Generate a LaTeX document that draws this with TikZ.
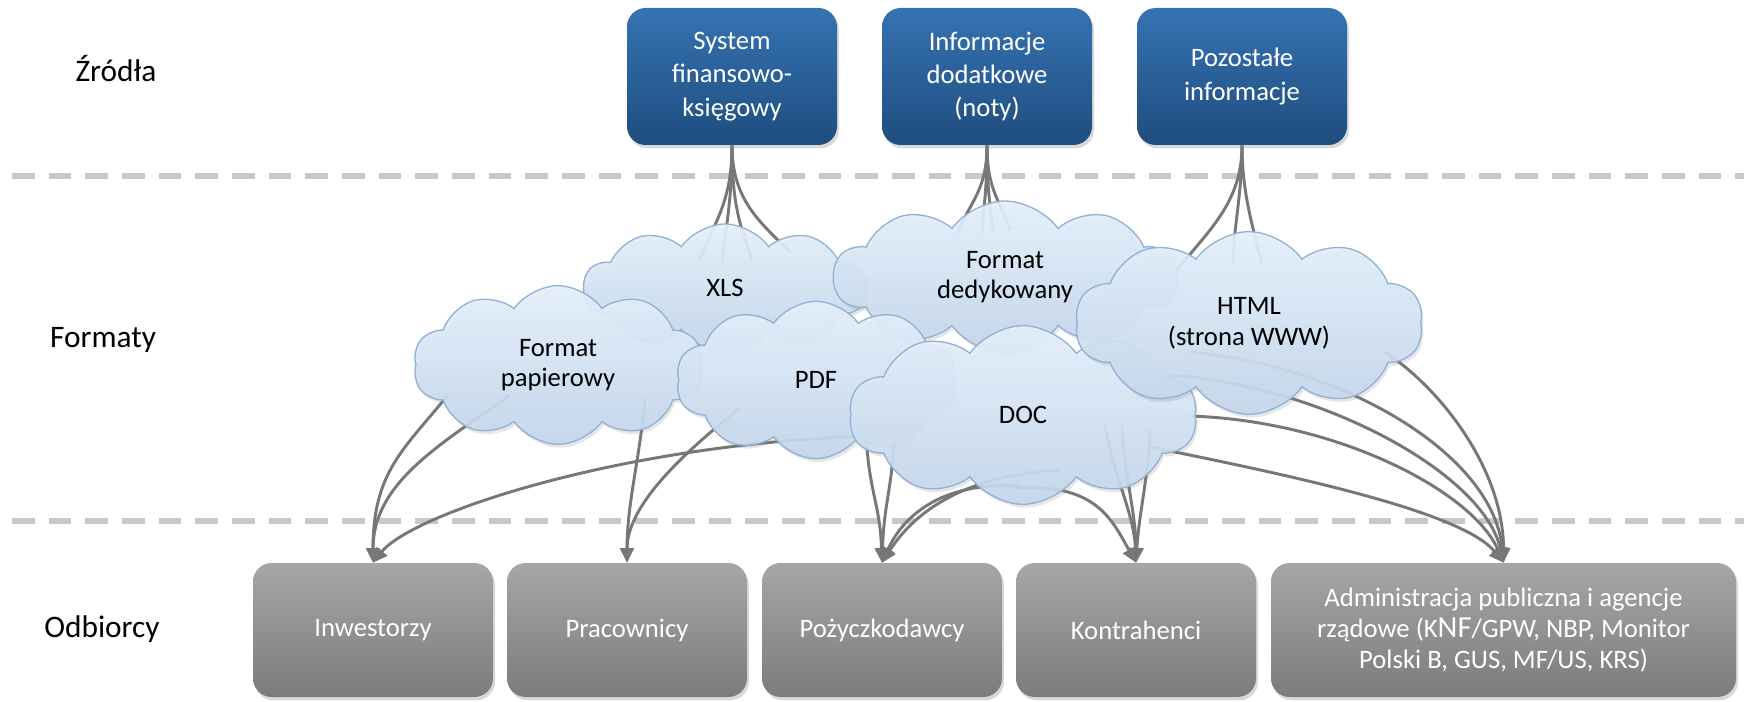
\documentclass[tikz,border=0pt]{standalone}
\usepackage{fontspec}
\setmainfont{Carlito}
\usetikzlibrary{shapes.symbols,shadows,arrows.meta,calc}
\pgfdeclarelayer{bg}
\pgfsetlayers{bg,main}
\definecolor{blueT}{HTML}{3573B3}
\definecolor{blueB}{HTML}{1F4D7E}
\definecolor{grayT}{HTML}{A6A6A6}
\definecolor{grayB}{HTML}{7C7C7C}
\definecolor{cloudT}{HTML}{E4F0FC}
\definecolor{cloudB}{HTML}{C3D6EB}
\definecolor{cloudL}{HTML}{93B1D5}
\definecolor{connC}{HTML}{777777}
\definecolor{sepC}{HTML}{C8C8C8}
\tikzset{
  srcbox/.style={rectangle, rounded corners=14pt, minimum width=157.5pt, minimum height=102.75pt,
    inner sep=2pt, top color=blueT, bottom color=blueB, text=white, align=center,
    font=\fontsize{20}{25}\selectfont,
    drop shadow={shadow xshift=1.5pt, shadow yshift=-2.5pt, opacity=0.3}},
  dstbox/.style={rectangle, rounded corners=14pt, minimum width=180pt, minimum height=100.5pt,
    inner sep=2pt, top color=grayT, bottom color=grayB, text=white, align=center,
    font=\fontsize{20}{23}\selectfont,
    drop shadow={shadow xshift=1.5pt, shadow yshift=-2.5pt, opacity=0.3}},
  fmt/.style={cloud, cloud puffs=10, cloud puff arc=110, cloud ignores aspect, draw=cloudL,
    line width=1pt, top color=cloudT, bottom color=cloudB, fill opacity=0.92, text opacity=1,
    align=center, font=\fontsize{20}{23}\selectfont,
    drop shadow={shadow xshift=1.5pt, shadow yshift=-2.5pt, opacity=0.2}},
  lbl/.style={font=\fontsize{23.5}{28}\selectfont, text=black},
  conn/.style={draw=connC, line width=2.2pt},
  arr/.style={conn, -{Triangle[length=11pt,width=10pt]}},
  sepline/.style={draw=sepC, line width=5pt, dash pattern=on 17pt off 10.5pt},
}
\begin{document}
\begin{tikzpicture}[x=0.75pt,y=-0.75pt]
\useasboundingbox (0,0) rectangle (1744,702);

% row labels
\node[lbl] (lz) at (116,69) {Źródła};
\node[lbl] (lf) at (103,340) {Formaty};
\node[lbl] (lo) at (102,629) {Odbiorcy};

% sources
\node[srcbox] (sys) at (732,76.5) {System\\finansowo-\\księgowy};
\node[srcbox] (inf) at (987,76.5) {Informacje\\dodatkowe\\(noty)};
\node[srcbox] (poz) at (1242,76.5) {Pozostałe\\informacje};

% formats
\node[fmt, minimum width=212pt, minimum height=96pt] (xls) at (725,288) {XLS};
\node[fmt, minimum width=257pt, minimum height=114pt] (ded) at (1005,277) {Format\\dedykowany};
\node[fmt, minimum width=217pt, minimum height=119pt] (pap) at (558,365) {Format\\papierowy};
\node[fmt, minimum width=210pt, minimum height=118pt] (pdf) at (816,380) {PDF};
\node[fmt, minimum width=261pt, minimum height=134pt] (doc) at (1023,415) {DOC};
\node[fmt, minimum width=261pt, minimum height=137pt] (html) at (1249,323) {HTML\\(strona WWW)};

% recipients
\node[dstbox] (inw) at (373,630) {Inwestorzy};
\node[dstbox] (pra) at (627,630) {Pracownicy};
\node[dstbox] (lend) at (882,630) {Pożyczkodawcy};
\node[dstbox] (kon) at (1136,630) {Kontrahenci};
\node[dstbox, minimum width=348.75pt] (adm) at (1503.5,630)
  {Administracja publiczna i agencje\\rządowe (K{\fontsize{23}{23}\selectfont NF}/GPW, NBP, Monitor\\Polski B, GUS, MF/US, KRS)};

\begin{pgfonlayer}{bg}
\draw[sepline] (12,176) -- (1744,176);
\draw[sepline] (12,521) -- (1744,521);

% sources -> formats
\draw[conn] (sys.south) .. controls +(0,60) and +(12,-35) .. ($(xls.center)+(-25,-28)$);
\draw[conn] (sys.south) .. controls +(0,60) and +(3,-35) .. ($(xls.center)+(-3,-24)$);
\draw[conn] (sys.south) .. controls +(0,60) and +(-12,-35) .. ($(xls.center)+(27,-28)$);
\draw[conn] (sys.south) .. controls +(0,55) and +(-30,-30) .. ($(xls.center)+(65,-36)$);

\draw[conn] (inf.south) .. controls +(0,45) and +(12,-30) .. ($(ded.center)+(-47,-45)$);
\draw[conn] (inf.south) .. controls +(0,45) and +(2,-30) .. ($(ded.center)+(-23,-45)$);
\draw[conn] (inf.south) .. controls +(0,45) and +(-3,-30) .. ($(ded.center)+(-12,-45)$);
\draw[conn] (inf.south) .. controls +(0,45) and +(-10,-30) .. ($(ded.center)+(5,-47)$);

\draw[conn] (poz.south) .. controls +(0,60) and +(30,-40) .. ($(html.center)+(-74,-50)$);
\draw[conn] (poz.south) .. controls +(0,50) and +(0,-35) .. ($(html.center)+(-16,-58)$);
\draw[conn] (poz.south) .. controls +(0,50) and +(-8,-35) .. ($(html.center)+(13,-58)$);

% formats -> recipients
\draw[arr] ($(pap.center)+(-110,30)$) .. controls +(-45,55) and +(0,-90) .. (inw.north);
\draw[arr] ($(pap.center)+(-48,30)$) .. controls +(-70,50) and +(0,-80) .. (inw.north);
\draw[arr] ($(doc.center)+(-143,21)$) .. controls +(-250,5) and +(40,-50) .. (inw.north);

\draw[arr] ($(pap.center)+(87,33)$) .. controls +(-5,60) and +(0,-60) .. (pra.north);
\draw[arr] ($(pdf.center)+(-76,28)$) .. controls +(-50,40) and +(0,-60) .. (pra.north);

\draw[arr] ($(doc.center)+(-157,15)$) .. controls +(2,60) and +(-2,-60) .. (lend.north);
\draw[arr] ($(doc.center)+(-128,15)$) .. controls +(-3,60) and +(2,-60) .. (lend.north);
\draw[arr] ($(doc.center)+(-3,71)$) .. controls +(-80,-5) and +(20,-45) .. (lend.north);
\draw[arr] ($(doc.center)+(37,55)$) .. controls +(-90,5) and +(35,-55) .. (lend.north);

\draw[arr] ($(doc.center)+(82,10)$) .. controls +(8,50) and +(-2,-50) .. (kon.north);
\draw[arr] ($(doc.center)+(99,10)$) .. controls +(2,50) and +(0,-50) .. (kon.north);
\draw[arr] ($(doc.center)+(127,15)$) .. controls +(-2,50) and +(3,-50) .. (kon.north);
\draw[arr] ($(doc.center)+(-8,73)$) .. controls +(80,-5) and +(-25,-45) .. (kon.north);

\draw[arr] ($(html.center)+(136,29)$) .. controls +(60,40) and +(0,-90) .. (adm.north);
\draw[arr] ($(html.center)+(-59,29)$) .. controls +(150,13) and +(-10,-110) .. (adm.north);
\draw[arr] ($(html.center)+(-79,52)$) .. controls +(150,10) and +(-20,-90) .. (adm.north);
\draw[arr] ($(doc.center)+(167,1)$) .. controls +(150,5) and +(-30,-70) .. (adm.north);
\draw[arr] ($(doc.center)+(127,32)$) .. controls +(150,30) and +(-40,-50) .. (adm.north);
\end{pgfonlayer}
\end{tikzpicture}
\end{document}
